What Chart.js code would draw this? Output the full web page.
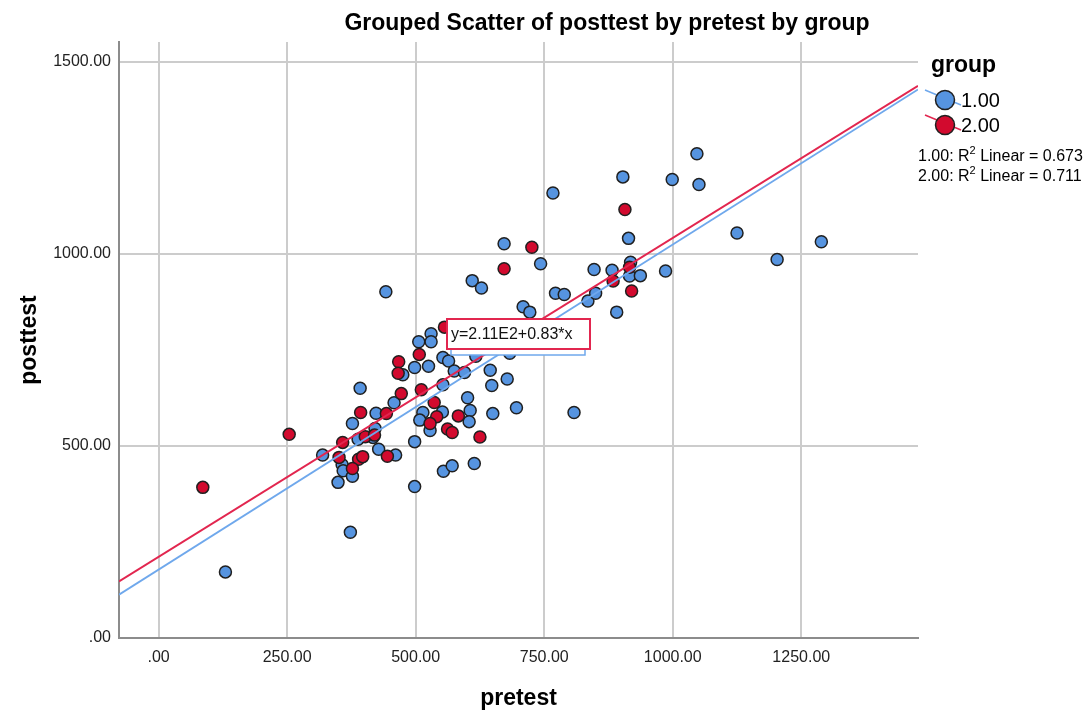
<!DOCTYPE html>
<html>
<head>
<meta charset="utf-8">
<title>Grouped Scatter of posttest by pretest by group</title>
<script src="https://cdn.jsdelivr.net/npm/chart.js@4.4.1/dist/chart.umd.min.js"></script>
<style>
  html, body { margin: 0; padding: 0; background: #fff; }
  #wrap { width: 1085px; height: 712px; }
</style>
</head>
<body>
<div id="wrap"><canvas id="scatterChart" width="1085" height="712"></canvas></div>
<script>
// Grouped scatter: posttest vs pretest, two groups with linear fit lines.

const chartTitle = "Grouped Scatter of posttest by pretest by group";
const groupLabels = ["1.00", "2.00"];
const rSquared = ["0.673", "0.711"];

// group 1.00
const group1Pretest = [672, 610, 628, 442, 530, 506, 530, 553, 564, 617, 498, 525, 475, 575, 595,
  645, 678, 683, 392, 648, 553, 696, 601, 606, 604, 650, 808, 423, 458, 377, 421, 388, 417, 514,
  508, 528, 552, 428, 461, 319, 357, 359, 377, 349, 498, 554, 571, 614, 498, 373, 130, 1047, 903,
  999, 1051, 767, 914, 1125, 1289, 1203, 743, 847, 882, 918, 916, 937, 986, 772, 789, 835, 850,
  891, 709, 722];
const group1Posttest = [1026, 930, 911, 901, 792, 771, 771, 730, 721, 733, 704, 707, 685, 695, 691,
  697, 674, 741, 650, 657, 659, 599, 625, 592, 563, 584, 587, 585, 612, 558, 545, 517, 522, 587,
  567, 540, 588, 491, 476, 476, 451, 435, 421, 405, 394, 434, 448, 454, 511, 275, 172, 1260, 1200,
  1193, 1180, 1158, 1040, 1054, 1031, 985, 974, 959, 957, 978, 942, 943, 955, 897, 894, 877, 897,
  848, 862, 848];

// group 2.00
const group2Pretest = [672, 726, 907, 916, 884, 920, 556, 507, 467, 466, 472, 511, 536, 393, 443,
  541, 528, 562, 571, 583, 625, 254, 358, 402, 420, 351, 389, 397, 445, 377, 86];
const group2Posttest = [961, 1017, 1115, 965, 929, 903, 809, 738, 719, 689, 636, 646, 613, 587, 584,
  576, 558, 544, 535, 578, 523, 530, 509, 524, 528, 470, 465, 472, 473, 441, 392];

// linear fit lines (intercept, slope) per group
const fitIntercept = [178, 211];
const fitSlope = [0.846, 0.83];
const fitLabel = "y=2.11E2+0.83*x";

const xTickValues = [0, 250, 500, 750, 1000, 1250];
const yTickValues = [0, 500, 1000, 1500];
const X_MIN = -77, X_MAX = 1477;
const Y_MIN = 0, Y_MAX = 1551;

const BLUE = "#5694e0";
const RED = "#d20a2e";
const BLUE_LINE = "#6fa8ec";
const RED_LINE = "#e2264f";
const FONT = '"Liberation Sans", Arial, sans-serif';

function toPoints(xs, ys) {
  return xs.map((x, i) => ({ x, y: ys[i] }));
}

function fitPoints(i) {
  return [X_MIN, X_MAX].map(x => ({ x, y: fitIntercept[i] + fitSlope[i] * x }));
}

function fmt(v) {
  return v === 0 ? ".00" : v.toFixed(2);
}

// title, legend, R2 notes and the equation box
const overlayText = {
  id: "overlayText",
  afterDraw(chart) {
    const ctx = chart.ctx;
    ctx.save();
    ctx.fillStyle = "#000";
    ctx.textBaseline = "alphabetic";

    ctx.font = "bold 23px " + FONT;
    ctx.textAlign = "center";
    ctx.fillText(chartTitle, 607, 30);

    // legend
    ctx.textAlign = "left";
    ctx.font = "bold 23px " + FONT;
    ctx.fillText("group", 931, 72);

    const rows = [
      { y: 100, fill: BLUE, line: BLUE_LINE },
      { y: 125, fill: RED, line: RED_LINE }
    ];
    rows.forEach((r, i) => {
      ctx.strokeStyle = r.line;
      ctx.lineWidth = 1.5;
      ctx.beginPath();
      ctx.moveTo(925, r.y - 10);
      ctx.lineTo(961, r.y + 5);
      ctx.stroke();
      ctx.beginPath();
      ctx.arc(945, r.y, 9.5, 0, Math.PI * 2);
      ctx.fillStyle = r.fill;
      ctx.fill();
      ctx.strokeStyle = "#202020";
      ctx.lineWidth = 1.5;
      ctx.stroke();
      ctx.fillStyle = "#000";
      ctx.font = "20px " + FONT;
      ctx.textBaseline = "middle";
      ctx.fillText(groupLabels[i], 961, r.y + 1);
    });

    // R2 notes
    ctx.textBaseline = "middle";
    [157, 177].forEach((y, i) => {
      let x = 918;
      const a = groupLabels[i] + ": R";
      ctx.font = "16px " + FONT;
      ctx.fillText(a, x, y);
      x += ctx.measureText(a).width;
      ctx.font = "11px " + FONT;
      ctx.fillText("2", x, y - 6);
      x += ctx.measureText("2").width;
      ctx.font = "16px " + FONT;
      ctx.fillText(" Linear = " + rSquared[i], x, y);
    });

    // equation boxes (group 1 box sits under group 2 box)
    ctx.lineWidth = 1.5;
    ctx.fillStyle = "#fff";
    ctx.strokeStyle = BLUE_LINE;
    ctx.fillRect(451, 325, 134, 30);
    ctx.strokeRect(451, 325, 134, 30);
    ctx.strokeStyle = RED_LINE;
    ctx.lineWidth = 2;
    ctx.fillRect(447, 319, 143, 30);
    ctx.strokeRect(447, 319, 143, 30);
    ctx.fillStyle = "#111";
    ctx.font = "16px " + FONT;
    ctx.textBaseline = "middle";
    ctx.fillText(fitLabel, 451, 335);

    ctx.restore();
  }
};

const ctx = document.getElementById("scatterChart");

new Chart(ctx, {
  type: "scatter",
  data: {
    datasets: [
      {
        label: groupLabels[0],
        data: toPoints(group1Pretest, group1Posttest),
        backgroundColor: BLUE,
        borderColor: "#202020",
        borderWidth: 1.5,
        pointRadius: 6,
        order: 3
      },
      {
        label: groupLabels[1],
        data: toPoints(group2Pretest, group2Posttest),
        backgroundColor: RED,
        borderColor: "#202020",
        borderWidth: 1.5,
        pointRadius: 6,
        order: 2
      },
      {
        label: "fit 1",
        data: fitPoints(0),
        showLine: true,
        borderColor: BLUE_LINE,
        borderWidth: 1.8,
        pointRadius: 0,
        order: 1
      },
      {
        label: "fit 2",
        data: fitPoints(1),
        showLine: true,
        borderColor: RED_LINE,
        borderWidth: 2,
        pointRadius: 0,
        order: 0
      }
    ]
  },
  options: {
    responsive: false,
    animation: false,
    layout: { padding: { left: 16, right: 167, top: 42, bottom: 0 } },
    plugins: {
      legend: { display: false },
      tooltip: { enabled: false }
    },
    scales: {
      x: {
        type: "linear",
        min: X_MIN,
        max: X_MAX,
        afterBuildTicks: s => { s.ticks = xTickValues.map(v => ({ value: v })); },
        afterFit: s => { s.height = 74; },
        grid: { color: "#cccccc", lineWidth: 2, drawTicks: false },
        border: { color: "#8c8c8c", width: 2 },
        ticks: {
          padding: 10,
          color: "#222",
          font: { family: FONT, size: 16 },
          callback: v => fmt(v)
        },
        title: {
          display: true,
          text: "pretest",
          color: "#000",
          padding: 0,
          font: { family: FONT, size: 23, weight: "bold" }
        }
      },
      y: {
        type: "linear",
        min: Y_MIN,
        max: Y_MAX,
        afterBuildTicks: s => { s.ticks = yTickValues.map(v => ({ value: v })); },
        afterFit: s => { s.width = 103; },
        grid: { color: "#cccccc", lineWidth: 2, drawTicks: false },
        border: { color: "#8c8c8c", width: 2 },
        ticks: {
          padding: 8,
          color: "#222",
          font: { family: FONT, size: 16 },
          callback: v => fmt(v)
        },
        title: {
          display: true,
          text: "posttest",
          color: "#000",
          padding: 0,
          font: { family: FONT, size: 23, weight: "bold" }
        }
      }
    }
  },
  plugins: [overlayText]
});
</script>
</body>
</html>
